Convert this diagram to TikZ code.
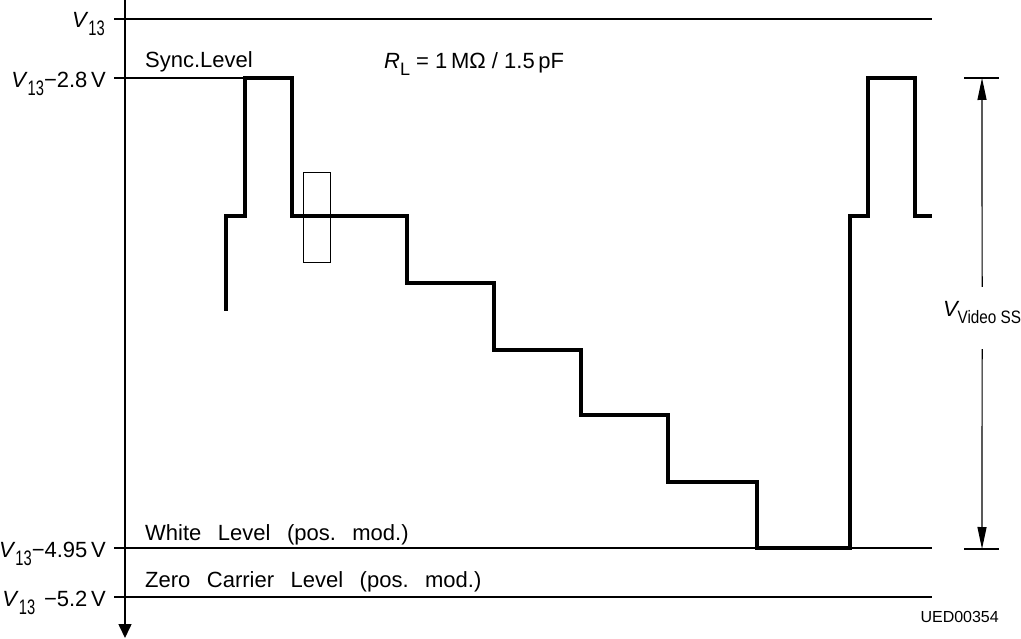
\documentclass[tikz,border=0pt]{standalone}
\usepackage{fontspec}
\setmainfont{Liberation Sans}
\usetikzlibrary{arrows.meta}
\newcommand\lbsub[1]{\raisebox{-8pt}{\scalebox{0.7}[1]{\fontsize{21}{21}\selectfont #1}}}
\newcommand\wsp{\hspace{0.75em}}
\begin{document}
\begin{tikzpicture}[x=1pt,y=-1pt,
  every node/.style={inner sep=0pt, font=\fontsize{22}{26}\selectfont},
  thinline/.style={line width=1.4pt},
  frameline/.style={line width=1pt},
  wave/.style={line width=3.8pt, line join=miter, line cap=butt},
  dimarr/.style={line width=1.2pt, -{Triangle[width=9pt,length=22pt]}},
  axisarr/.style={line width=1.6pt, -{Triangle[width=13pt,length=14pt]}}]
\useasboundingbox (0,0) rectangle (1021,639);

% axis
\coordinate (axtop) at (125,0);
\coordinate (axbot) at (125,638);
\draw[axisarr] (axtop) -- (axbot);

% level lines
\coordinate (l1a) at (114,19);  \coordinate (l1b) at (932,19);
\coordinate (l2a) at (114,78);  \coordinate (l2b) at (245,78);
\coordinate (l3a) at (114,548); \coordinate (l3b) at (932,548);
\coordinate (l4a) at (114,597); \coordinate (l4b) at (932,597);
\draw[thinline] (l1a) -- (l1b);
\draw[thinline] (l2a) -- (l2b);
\draw[thinline] (l3a) -- (l3b);
\draw[thinline] (l4a) -- (l4b);

% left labels
\node[anchor=base east] (lv13) at (105,28) {\textit{V}\lbsub{13}};
\node[anchor=base east] (lsync) at (106,88) {\textit{V}\lbsub{13}−2.8\,V};
\node[anchor=base east] (lwhite) at (106,557) {\textit{V}\lbsub{13}−4.95\,V};
\node[anchor=base east] (lzero) at (106,606) {\textit{V}\lbsub{13}\hspace{0.4em}−5.2\,V};

% texts
\node[anchor=base west] (tsync) at (145,68) {Sync.Level};
\node[anchor=base west] (trl) at (384,69) {\textit{R}\raisebox{-7pt}{\fontsize{18}{18}\selectfont L} = 1\,MΩ / 1.5\,pF};
\node[anchor=base west] (twhite) at (145,540) {White\wsp Level\wsp (pos.\wsp mod.)};
\node[anchor=base west] (tzero) at (145,587) {Zero\wsp Carrier\wsp Level\wsp (pos.\wsp mod.)};
\node[anchor=base east, font=\fontsize{16}{16}\selectfont] (ued) at (999,622) {UED00354};

% waveform
\draw[wave] (226,311) -- (226,216) -- (245,216) -- (245,78) -- (292,78) -- (292,216)
  -- (407,216) -- (407,283) -- (494,283) -- (494,350) -- (581,350) -- (581,415)
  -- (668,415) -- (668,482) -- (757,482) -- (757,548) -- (850,548) -- (850,216)
  -- (868,216) -- (868,78) -- (915,78) -- (915,216) -- (932,216);

% small window
\draw[frameline] (303,173) rectangle (330,263);

% dimension
\node[anchor=base west, text height=30pt, text depth=32pt] (vss) at (943,317)
  {\textit{V}\kern-2pt\raisebox{-6pt}{\scalebox{0.85}[1]{\fontsize{18}{18}\selectfont Video SS}}};
\coordinate (dtop) at (982,78);
\coordinate (dbot) at (982,549);
\draw[thinline] (964,78) -- (999,78);
\draw[thinline] (964,549) -- (999,549);
\draw[dimarr] (vss.north) -- (dtop);
\draw[dimarr] (vss.south) -- (dbot);
\end{tikzpicture}
\end{document}
